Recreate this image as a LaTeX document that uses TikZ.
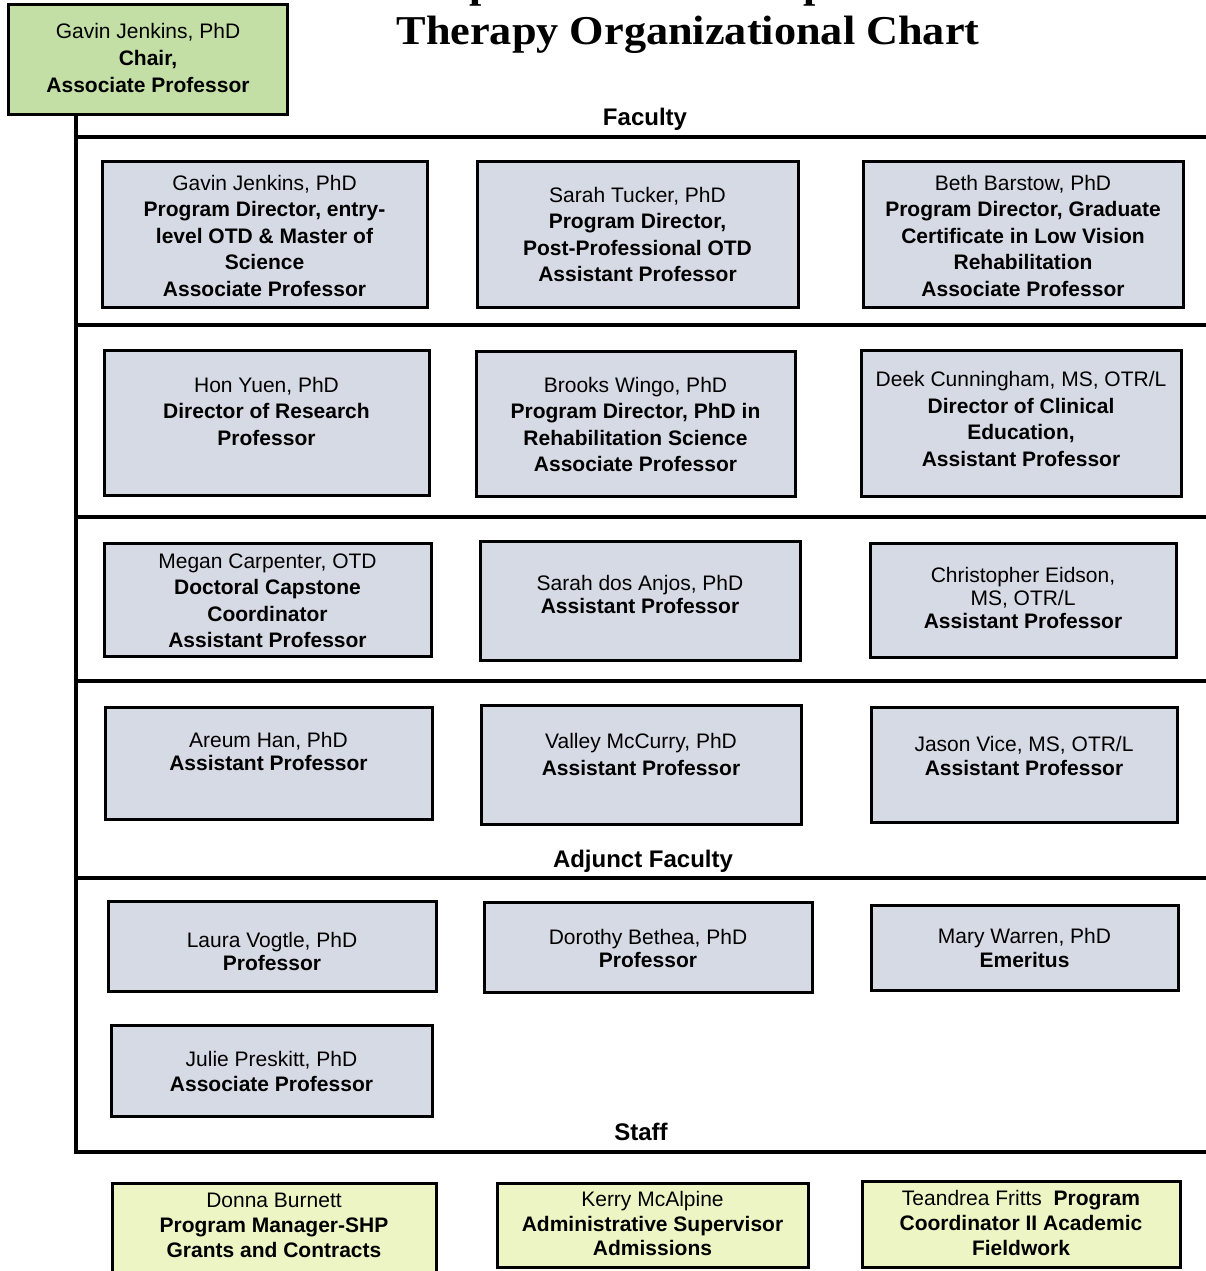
\documentclass[tikz,border=0pt]{standalone}
\usepackage{fontspec}
\setmainfont{Liberation Sans}
\newfontfamily\titlefont{Liberation Serif}
\definecolor{boxblue}{HTML}{D5DAE4}
\definecolor{chairgreen}{HTML}{C4DFA6}
\definecolor{staffyellow}{HTML}{EEF5C4}
\newcommand\pname[1]{{\mdseries #1}}
\begin{document}
\begin{tikzpicture}[x=1pt,y=-1pt,
  card/.style={draw=black, line width=3pt, fill=#1, inner sep=0pt},
  card/.default=boxblue,
  txt/.style={align=center, font=\fontsize{21}{#1}\selectfont\bfseries, inner sep=0pt},
  txt/.default=26.5,
  rule/.style={line width=3.5pt, line cap=rect},
  head/.style={font=\fontsize{24}{28}\selectfont\bfseries, inner sep=0pt, anchor=base},
  ttl/.style={font=\titlefont\fontsize{41}{47}\selectfont\bfseries, inner sep=0pt, anchor=base},
]
\useasboundingbox (0,0) rectangle (1205,1271);

% title
\node[ttl] (title1) at (688,-2) {\scalebox{1.08}[1]{Department of Occupational}};
\node[ttl] (title2) at (688,45) {\scalebox{1.08}[1]{Therapy Organizational Chart}};

% chair
\node[card=chairgreen, minimum width=279, minimum height=110] (chair) at (148,59.5) {};
\node[txt=27] (chairt) at (148,58) {\pname{Gavin Jenkins, PhD}\\Chair,\\Associate Professor};

% trunk and rules
\coordinate (tr0) at (76,116);
\coordinate (h1) at (76,137);  \coordinate (e1) at (1205,137);
\coordinate (h2) at (76,325);  \coordinate (e2) at (1205,325);
\coordinate (h3) at (76,517);  \coordinate (e3) at (1205,517);
\coordinate (h4) at (76,681);  \coordinate (e4) at (1205,681);
\coordinate (h5) at (76,878);  \coordinate (e5) at (1205,878);
\coordinate (h6) at (76,1152); \coordinate (e6) at (1205,1152);
\draw[line width=3.5pt] (tr0 |- chair.south) -- (h6);
\draw[rule] (h1) -- (e1);
\draw[rule] (h2) -- (e2);
\draw[rule] (h3) -- (e3);
\draw[rule] (h4) -- (e4);
\draw[rule] (h5) -- (e5);
\draw[rule] (h6) -- (e6);

% section headings
\node[head] (lfac) at (645,125) {Faculty};
\node[head] (ladj) at (643,867) {Adjunct Faculty};
\node[head] (lstaff) at (641,1140) {Staff};

% row 1
\node[card, minimum width=325, minimum height=146] (f11) at (264.5,234) {};
\node[txt] (f11t) at (264.5,235.5) {\pname{Gavin Jenkins, PhD}\\Program Director, entry-\\level OTD \& Master of\\Science\\Associate Professor};
\node[card, minimum width=321, minimum height=146] (f12) at (637.5,234) {};
\node[txt] (f12t) at (637.5,234.5) {\pname{Sarah Tucker, PhD}\\Program Director,\\Post-Professional OTD\\Assistant Professor};
\node[card, minimum width=320, minimum height=146] (f13) at (1023,234) {};
\node[txt] (f13t) at (1023,235.5) {\pname{Beth Barstow, PhD}\\Program Director, Graduate\\Certificate in Low Vision\\Rehabilitation\\Associate Professor};

% row 2
\node[card, minimum width=325, minimum height=145] (f21) at (266.5,422.5) {};
\node[txt] (f21t) at (266.5,411) {\pname{Hon Yuen, PhD}\\Director of Research\\Professor};
\node[card, minimum width=319, minimum height=145] (f22) at (635.5,423.5) {};
\node[txt] (f22t) at (635.5,424.5) {\pname{Brooks Wingo, PhD}\\Program Director, PhD in\\Rehabilitation Science\\Associate Professor};
\node[card, minimum width=320, minimum height=146] (f23) at (1021,423) {};
\node[txt] (f23t) at (1021,419) {\pname{Deek Cunningham, MS, OTR/L}\\Director of Clinical\\Education,\\Assistant Professor};

% row 3
\node[card, minimum width=327, minimum height=113] (f31) at (267.5,599.5) {};
\node[txt] (f31t) at (267.5,601) {\pname{Megan Carpenter, OTD}\\Doctoral Capstone\\Coordinator\\Assistant Professor};
\node[card, minimum width=320, minimum height=119] (f32) at (640,600.5) {};
\node[txt=23] (f32t) at (640,594.5) {\pname{Sarah dos Anjos, PhD}\\Assistant Professor};
\node[card, minimum width=306, minimum height=114] (f33) at (1023,600) {};
\node[txt=23] (f33t) at (1023,598) {\pname{Christopher Eidson,}\\\pname{MS, OTR/L}\\Assistant Professor};

% row 4
\node[card, minimum width=327, minimum height=112] (f41) at (268.5,763) {};
\node[txt=23] (f41t) at (268.5,751.5) {\pname{Areum Han, PhD}\\Assistant Professor};
\node[card, minimum width=320, minimum height=119] (f42) at (641,764.5) {};
\node[txt=27] (f42t) at (641,754.5) {\pname{Valley McCurry, PhD}\\Assistant Professor};
\node[card, minimum width=306, minimum height=115] (f43) at (1024,764.5) {};
\node[txt=24] (f43t) at (1024,756) {\pname{Jason Vice, MS, OTR/L}\\Assistant Professor};

% adjunct
\node[card, minimum width=328, minimum height=90] (a1) at (272,946) {};
\node[txt=23] (a1t) at (272,951.5) {\pname{Laura Vogtle, PhD}\\Professor};
\node[card, minimum width=328, minimum height=90] (a2) at (648,947) {};
\node[txt=23] (a2t) at (648,948.5) {\pname{Dorothy Bethea, PhD}\\Professor};
\node[card, minimum width=307, minimum height=85] (a3) at (1024.5,947.5) {};
\node[txt=24] (a3t) at (1024.5,948) {\pname{Mary Warren, PhD}\\Emeritus};
\node[card, minimum width=321, minimum height=91] (a4) at (271.5,1070.5) {};
\node[txt=25] (a4t) at (271.5,1071.5) {\pname{Julie Preskitt, PhD}\\Associate Professor};

% staff
\node[card=staffyellow, minimum width=324, minimum height=106] (s1) at (274,1236) {};
\node[txt=25] (s1t) at (274,1225) {\pname{Donna Burnett}\\Program Manager-SHP\\Grants and Contracts};
\node[card=staffyellow, minimum width=311, minimum height=84] (s2) at (652.5,1225) {};
\node[txt=24.5] (s2t) at (652.5,1223.5) {\pname{Kerry McAlpine}\\Administrative Supervisor\\Admissions};
\node[card=staffyellow, minimum width=318, minimum height=86] (s3) at (1021,1224) {};
\node[txt=25] (s3t) at (1021,1223) {\pname{Teandrea Fritts}\ \ Program\\Coordinator II Academic\\Fieldwork};
\end{tikzpicture}
\end{document}
